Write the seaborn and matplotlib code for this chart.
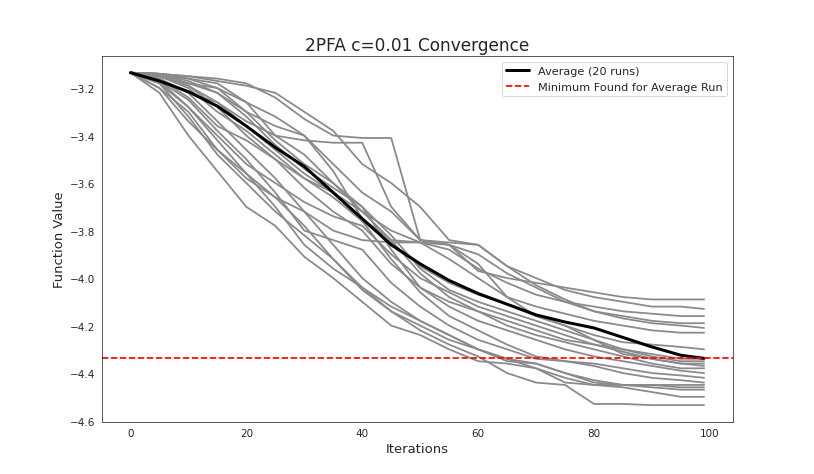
import numpy as np
import pandas as pd
import matplotlib
matplotlib.use("Agg")
import matplotlib.pyplot as plt
import seaborn as sns

iters = [0, 5, 10, 15, 20, 25, 30, 35, 40, 45, 50, 55, 60, 65, 70, 75, 80, 85, 90, 95, 99]

# Function value of each of the 20 runs
runs = [
    [-3.135, -3.22, -3.40, -3.55, -3.70, -3.78, -3.91, -4.00, -4.10, -4.20, -4.24, -4.30, -4.35, -4.36, -4.38, -4.44, -4.45, -4.45, -4.45, -4.45, -4.45],
    [-3.135, -3.18, -3.32, -3.48, -3.60, -3.72, -3.82, -3.92, -4.05, -4.14, -4.22, -4.28, -4.33, -4.40, -4.44, -4.45, -4.53, -4.53, -4.535, -4.535, -4.535],
    [-3.135, -3.20, -3.30, -3.46, -3.58, -3.66, -3.72, -3.80, -3.84, -3.85, -3.85, -3.86, -3.97, -4.00, -4.02, -4.04, -4.06, -4.08, -4.09, -4.09, -4.09],
    [-3.135, -3.14, -3.15, -3.16, -3.18, -3.24, -3.33, -3.40, -3.41, -3.41, -3.84, -3.85, -3.86, -3.95, -4.00, -4.05, -4.08, -4.10, -4.12, -4.12, -4.13],
    [-3.135, -3.14, -3.16, -3.18, -3.26, -3.40, -3.42, -3.43, -3.43, -3.70, -3.84, -3.86, -3.90, -3.98, -4.04, -4.10, -4.14, -4.16, -4.18, -4.19, -4.19],
    [-3.135, -3.15, -3.18, -3.20, -3.30, -3.36, -3.40, -3.55, -3.75, -3.84, -3.85, -3.88, -3.96, -4.02, -4.07, -4.10, -4.12, -4.14, -4.15, -4.16, -4.16],
    [-3.135, -3.14, -3.15, -3.17, -3.19, -3.22, -3.30, -3.38, -3.52, -3.60, -3.70, -3.84, -3.86, -3.95, -4.03, -4.09, -4.14, -4.17, -4.19, -4.20, -4.21],
    [-3.135, -3.16, -3.22, -3.26, -3.34, -3.40, -3.48, -3.60, -3.72, -3.80, -3.85, -3.92, -4.00, -4.08, -4.12, -4.15, -4.18, -4.20, -4.22, -4.23, -4.23],
    [-3.135, -3.15, -3.19, -3.28, -3.40, -3.50, -3.58, -3.66, -3.76, -3.85, -3.95, -4.02, -4.07, -4.11, -4.16, -4.20, -4.24, -4.27, -4.28, -4.29, -4.30],
    [-3.135, -3.14, -3.17, -3.22, -3.32, -3.44, -3.54, -3.62, -3.70, -3.82, -3.96, -4.05, -4.10, -4.14, -4.18, -4.22, -4.26, -4.30, -4.32, -4.34, -4.34],
    [-3.135, -3.16, -3.24, -3.36, -3.42, -3.50, -3.62, -3.72, -3.80, -3.94, -4.04, -4.10, -4.14, -4.18, -4.22, -4.26, -4.28, -4.30, -4.33, -4.35, -4.35],
    [-3.135, -3.14, -3.16, -3.20, -3.26, -3.32, -3.40, -3.52, -3.64, -3.72, -3.84, -3.86, -3.94, -4.08, -4.16, -4.20, -4.26, -4.32, -4.34, -4.36, -4.36],
    [-3.135, -3.18, -3.28, -3.40, -3.52, -3.60, -3.68, -3.74, -3.78, -3.90, -4.00, -4.06, -4.12, -4.16, -4.20, -4.24, -4.28, -4.31, -4.34, -4.36, -4.37],
    [-3.135, -3.15, -3.20, -3.30, -3.38, -3.48, -3.58, -3.64, -3.72, -3.84, -3.98, -4.08, -4.14, -4.20, -4.24, -4.27, -4.30, -4.33, -4.36, -4.38, -4.38],
    [-3.135, -3.14, -3.18, -3.22, -3.30, -3.42, -3.52, -3.60, -3.70, -3.88, -4.04, -4.12, -4.18, -4.22, -4.26, -4.30, -4.33, -4.35, -4.37, -4.39, -4.40],
    [-3.135, -3.17, -3.25, -3.38, -3.50, -3.64, -3.80, -3.84, -3.88, -4.02, -4.12, -4.20, -4.26, -4.30, -4.34, -4.35, -4.36, -4.38, -4.40, -4.41, -4.42],
    [-3.135, -3.15, -3.19, -3.26, -3.36, -3.46, -3.56, -3.64, -3.76, -3.92, -4.06, -4.16, -4.22, -4.28, -4.33, -4.35, -4.37, -4.40, -4.42, -4.43, -4.44],
    [-3.135, -3.20, -3.34, -3.46, -3.56, -3.70, -3.86, -3.96, -4.04, -4.12, -4.18, -4.24, -4.30, -4.35, -4.36, -4.40, -4.44, -4.45, -4.45, -4.46, -4.46],
    [-3.135, -3.16, -3.22, -3.34, -3.46, -3.58, -3.72, -3.86, -4.00, -4.10, -4.18, -4.24, -4.30, -4.34, -4.36, -4.40, -4.43, -4.45, -4.46, -4.47, -4.47],
    [-3.135, -3.17, -3.28, -3.42, -3.56, -3.66, -3.78, -3.92, -4.04, -4.14, -4.20, -4.26, -4.30, -4.34, -4.38, -4.42, -4.45, -4.46, -4.48, -4.50, -4.50],
]

# Average curve
average = [-3.135, -3.17, -3.215, -3.276, -3.36, -3.45, -3.53, -3.64, -3.75, -3.86, -3.94,
           -4.01, -4.065, -4.11, -4.155, -4.185, -4.21, -4.25, -4.29, -4.325, -4.338]

# long-form table for seaborn
rows = []
for r, vals in enumerate(runs):
    for it, v in zip(iters, vals):
        rows.append({'run': r, 'iteration': it, 'value': v})
df_runs = pd.DataFrame(rows)
df_avg = pd.DataFrame({'iteration': iters, 'value': average})

sns.set_style('white')

fig, ax = plt.subplots(figsize=(12, 7))
sns.lineplot(data=df_runs, x='iteration', y='value', units='run', estimator=None,
             color='#8a8a8a', linewidth=1.9, legend=False, ax=ax)
sns.lineplot(data=df_avg, x='iteration', y='value', color='black', linewidth=3.2,
             label='Average (20 runs)', ax=ax)
ax.axhline(min(average), color='red', linestyle='--', linewidth=1.8,
           label='Minimum Found for Average Run')

ax.set_yticks([-3.2, -3.4, -3.6, -3.8, -4.0, -4.2, -4.4, -4.6])
ax.set_title('2PFA c=0.01 Convergence', fontsize=18)
ax.set_xlabel('Iterations', fontsize=14)
ax.set_ylabel('Function Value', fontsize=14)
ax.tick_params(labelsize=11)
ax.legend(loc='upper right', fontsize=12)

plt.savefig('out.png', dpi=67.85)
